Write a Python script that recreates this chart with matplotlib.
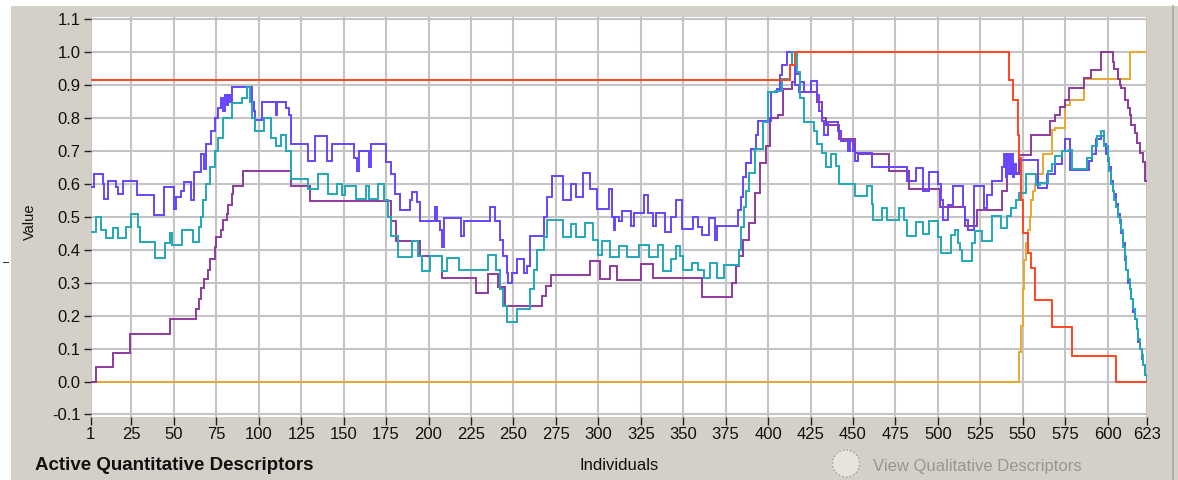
import numpy as np
import matplotlib
matplotlib.use("Agg")
import matplotlib.pyplot as plt
from matplotlib.patches import Rectangle, Ellipse
from matplotlib.lines import Line2D

plt.rcParams['font.family'] = ['Liberation Sans', 'DejaVu Sans']
plt.rcParams['axes.unicode_minus'] = False

# ---------------- data (step breakpoints: individual index -> value) ----------------
red_x = [1, 413, 416, 542, 544, 547, 548, 549, 550, 553, 555, 557, 567, 579, 605, 623]
red_v = [0.917, 0.96, 1.0, 0.915, 0.855, 0.75, 0.68, 0.55, 0.45, 0.39, 0.345, 0.248, 0.167, 0.079, 0.0, 0.0]

orange_x = [1, 548, 549, 550, 551, 552, 553, 554, 555, 556, 557, 559, 562, 567, 569, 575, 578, 586, 613, 623]
orange_v = [0.0, 0.09, 0.17, 0.28, 0.37, 0.42, 0.46, 0.50, 0.55, 0.58, 0.60, 0.63, 0.69, 0.765, 0.77, 0.84, 0.855, 0.92, 1.0, 1.0]

purple_x = [1, 4, 14, 24, 48, 63, 65, 66, 68, 70, 71, 74, 75, 78, 79, 81, 82, 84, 85, 91,
            119, 130, 178, 181, 195, 208, 228, 235, 241, 245, 267, 269, 272, 295, 301, 307,
            311, 325, 332, 361, 379, 381, 383, 385, 389, 392, 395, 399, 401, 406, 409, 414,
            416, 419, 429, 432, 434, 442, 451, 454, 471, 483, 501, 516, 523, 538, 541, 548,
            555, 566, 569, 572, 575, 577, 586, 590, 596, 603, 604, 606, 607, 608, 610, 612,
            613, 614, 616, 617, 619, 621, 622, 623]
purple_v = [0.0, 0.045, 0.088, 0.144, 0.189, 0.22, 0.25, 0.285, 0.31, 0.34, 0.372, 0.41, 0.439,
            0.46, 0.49, 0.51, 0.537, 0.57, 0.595, 0.638, 0.595, 0.548, 0.489, 0.428, 0.382,
            0.313, 0.268, 0.326, 0.286, 0.23, 0.26, 0.29, 0.324, 0.367, 0.311, 0.35, 0.309,
            0.357, 0.313, 0.257, 0.30, 0.35, 0.38, 0.43, 0.482, 0.574, 0.665, 0.714, 0.80,
            0.81, 0.888, 0.91, 0.934, 0.88, 0.85, 0.80, 0.779, 0.736, 0.695, 0.692, 0.64,
            0.584, 0.531, 0.472, 0.521, 0.578, 0.633, 0.689, 0.75, 0.79, 0.81, 0.835, 0.856,
            0.891, 0.921, 0.947, 1.0, 0.97, 0.95, 0.92, 0.90, 0.89, 0.856, 0.83, 0.81, 0.78,
            0.755, 0.725, 0.694, 0.668, 0.608, 0.608]

blue_x = [1, 3, 8, 9, 11, 16, 17, 20, 28, 38, 44, 50, 51, 54, 56, 60, 62, 66, 68, 69, 72, 74,
          76, 78, 79, 80, 81, 82, 83, 84, 96, 97, 98, 102, 110, 111, 116, 118, 119, 129, 133,
          140, 143, 156, 158, 159, 165, 166, 175, 178, 180, 183, 189, 190, 193, 195, 204, 205,
          207, 208, 209, 219, 221, 236, 239, 242, 244, 246, 247, 249, 252, 256, 258, 260, 268,
          270, 273, 279, 284, 287, 291, 295, 299, 306, 308, 309, 310, 312, 314, 319, 321, 327,
          329, 332, 334, 339, 343, 346, 349, 356, 359, 361, 365, 369, 370, 382, 384, 385, 387,
          390, 393, 394, 402, 405, 407, 408, 411, 414, 416, 418, 419, 421, 425, 429, 430, 432,
          433, 435, 441, 443, 447, 448, 450, 451, 453, 461, 482, 487, 491, 495, 500, 502, 503,
          506, 509, 515, 516, 518, 521, 527, 529, 532, 538, 539, 540, 541, 542, 543, 544, 545,
          546, 549, 559, 564, 569, 573, 575, 578, 589, 591, 593, 596, 598, 599, 600, 601, 602,
          603, 604, 605, 606, 607, 608, 609, 610, 611, 612, 613, 614, 615, 616, 617, 618, 619,
          620, 621, 622, 623]
blue_v = [0.59, 0.63, 0.60, 0.555, 0.61, 0.59, 0.57, 0.61, 0.565, 0.505, 0.59, 0.525, 0.56,
          0.58, 0.605, 0.55, 0.635, 0.69, 0.645, 0.72, 0.76, 0.80, 0.83, 0.86, 0.82, 0.87, 0.84,
          0.87, 0.85, 0.895, 0.85, 0.82, 0.795, 0.85, 0.81, 0.85, 0.83, 0.81, 0.72, 0.67, 0.745,
          0.67, 0.72, 0.68, 0.64, 0.70, 0.65, 0.72, 0.668, 0.63, 0.57, 0.522, 0.55, 0.575, 0.545,
          0.489, 0.53, 0.489, 0.46, 0.41, 0.497, 0.443, 0.489, 0.53, 0.489, 0.43, 0.38, 0.33,
          0.30, 0.33, 0.372, 0.33, 0.35, 0.443, 0.50, 0.56, 0.625, 0.55, 0.60, 0.56, 0.633, 0.585,
          0.524, 0.585, 0.50, 0.46, 0.50, 0.489, 0.517, 0.473, 0.512, 0.565, 0.512, 0.473, 0.512,
          0.453, 0.50, 0.55, 0.462, 0.50, 0.47, 0.444, 0.496, 0.43, 0.472, 0.52, 0.56, 0.62,
          0.665, 0.705, 0.75, 0.792, 0.878, 0.888, 0.93, 0.96, 1.0, 0.96, 0.90, 0.88, 0.91, 0.88,
          0.914, 0.87, 0.82, 0.79, 0.75, 0.787, 0.76, 0.73, 0.70, 0.73, 0.70, 0.67, 0.693, 0.65,
          0.609, 0.647, 0.579, 0.637, 0.60, 0.55, 0.49, 0.535, 0.594, 0.53, 0.49, 0.46, 0.593,
          0.527, 0.567, 0.608, 0.65, 0.69, 0.62, 0.69, 0.63, 0.69, 0.62, 0.66, 0.63, 0.674,
          0.589, 0.63, 0.66, 0.70, 0.735, 0.643, 0.67, 0.69, 0.735, 0.745, 0.72, 0.69, 0.67,
          0.65, 0.61, 0.58, 0.57, 0.54, 0.51, 0.49, 0.45, 0.42, 0.37, 0.34, 0.30, 0.28, 0.25,
          0.21, 0.19, 0.16, 0.12, 0.10, 0.07, 0.05, 0.02, 0.0]

teal_x = [1, 4, 7, 10, 14, 17, 22, 25, 29, 30, 39, 45, 48, 49, 55, 61, 65, 66, 67, 69, 71, 74,
          76, 79, 84, 90, 93, 95, 96, 98, 103, 107, 110, 113, 116, 119, 129, 135, 141, 146, 149,
          151, 157, 163, 165, 170, 174, 176, 178, 182, 190, 194, 196, 201, 208, 211, 218, 235,
          240, 242, 244, 246, 252, 260, 262, 264, 268, 270, 279, 284, 287, 292, 297, 300, 302,
          307, 312, 317, 324, 330, 335, 338, 343, 346, 348, 350, 355, 359, 362, 366, 370, 374,
          383, 384, 386, 387, 389, 392, 397, 400, 404, 408, 413, 414, 417, 419, 421, 427, 429,
          432, 434, 437, 440, 442, 451, 458, 461, 462, 467, 470, 477, 480, 482, 487, 491, 495,
          500, 502, 508, 510, 512, 513, 514, 520, 522, 526, 532, 537, 541, 543, 546, 548, 552,
          558, 560, 565, 567, 569, 573, 577, 579, 588, 591, 594, 596, 598, 600, 601, 602, 603,
          604, 605, 606, 607, 608, 609, 610, 611, 612, 613, 614, 615, 616, 617, 618, 619, 620,
          621, 622, 623]
teal_v = [0.455, 0.50, 0.46, 0.435, 0.465, 0.435, 0.47, 0.51, 0.47, 0.425, 0.375, 0.42, 0.45,
          0.415, 0.46, 0.425, 0.47, 0.50, 0.55, 0.60, 0.65, 0.70, 0.74, 0.80, 0.845, 0.86, 0.895,
          0.85, 0.80, 0.76, 0.80, 0.74, 0.715, 0.75, 0.70, 0.615, 0.585, 0.63, 0.57, 0.60, 0.565,
          0.595, 0.555, 0.595, 0.555, 0.60, 0.55, 0.50, 0.443, 0.377, 0.426, 0.38, 0.337, 0.382,
          0.337, 0.375, 0.339, 0.384, 0.34, 0.28, 0.23, 0.182, 0.22, 0.28, 0.34, 0.40, 0.44,
          0.49, 0.438, 0.478, 0.438, 0.48, 0.43, 0.384, 0.428, 0.377, 0.413, 0.377, 0.415, 0.377,
          0.415, 0.335, 0.372, 0.413, 0.38, 0.34, 0.36, 0.34, 0.315, 0.36, 0.315, 0.355, 0.40,
          0.47, 0.53, 0.58, 0.634, 0.705, 0.787, 0.878, 0.883, 0.92, 0.96, 1.0, 0.94, 0.86,
          0.789, 0.76, 0.72, 0.695, 0.652, 0.69, 0.655, 0.599, 0.563, 0.594, 0.54, 0.492, 0.528,
          0.492, 0.528, 0.49, 0.442, 0.484, 0.447, 0.487, 0.44, 0.391, 0.446, 0.46, 0.42, 0.40,
          0.365, 0.42, 0.456, 0.426, 0.502, 0.466, 0.502, 0.527, 0.55, 0.573, 0.63, 0.598, 0.603,
          0.638, 0.66, 0.684, 0.699, 0.704, 0.644, 0.68, 0.714, 0.745, 0.76, 0.714, 0.68, 0.64,
          0.60, 0.58, 0.55, 0.53, 0.50, 0.48, 0.46, 0.41, 0.38, 0.34, 0.31, 0.28, 0.25, 0.22,
          0.19, 0.16, 0.13, 0.10, 0.08, 0.05, 0.02, 0.0]

x_ticks = [1, 25, 50, 75, 100, 125, 150, 175, 200, 225, 250, 275, 300, 325, 350, 375, 400,
           425, 450, 475, 500, 525, 550, 575, 600, 623]
y_ticks = [-0.1, 0.0, 0.1, 0.2, 0.3, 0.4, 0.5, 0.6, 0.7, 0.8, 0.9, 1.0, 1.1]

colors = {
    'orange': '#e8a830',
    'red': '#ff4422',
    'purple': '#8e3a9e',
    'blue': '#6644ff',
    'teal': '#22a8b8',
}

W, H = 1178, 480
fig = plt.figure(figsize=(W / 100, H / 100), dpi=100)
fig.patch.set_facecolor('white')

# window background
fig.add_artist(Rectangle((11 / W, 0), (W - 11) / W, (H - 6) / H, transform=fig.transFigure,
                         facecolor='#d4d0c8', edgecolor='none', zorder=-10))
fig.add_artist(Line2D([1172.5 / W, 1172.5 / W], [0, (H - 6) / H], transform=fig.transFigure,
                      color='#a8a59e', lw=1.2))
fig.add_artist(Line2D([3 / W, 8 / W], [1 - 262 / H, 1 - 262 / H], transform=fig.transFigure,
                      color='#404040', lw=0.8))

left, right, top, bottom = 90.7, 1146.7, 17.3, 416.7
ax = fig.add_axes([left / W, (H - bottom) / H, (right - left) / W, (bottom - top) / H])
ax.set_facecolor('white')

def plot_steps(xs, vs, color, z):
    ax.plot(xs, vs, drawstyle='steps-post', color=color, lw=1.4, zorder=z, solid_joinstyle='miter')

plot_steps(orange_x, orange_v, colors['orange'], 3)
plot_steps(purple_x, purple_v, colors['purple'], 4)
plot_steps(blue_x, blue_v, colors['blue'], 5)
plot_steps(teal_x, teal_v, colors['teal'], 6)
plot_steps(red_x, red_v, colors['red'], 7)

ax.set_xlim(1, 623)
ax.set_ylim(-0.1067, 1.106)
ax.set_xticks(x_ticks)
ax.set_xticklabels([str(t) for t in x_ticks])
ax.set_yticks(y_ticks)
ax.set_yticklabels(['%.1f' % t for t in y_ticks])
ax.grid(True, color='#c4c4c4', lw=1.5, zorder=0)
ax.set_axisbelow(True)
for s in ax.spines.values():
    s.set_visible(False)
ax.tick_params(axis='both', direction='out', color='#202020', width=1.0,
               labelsize=12, labelcolor='#101010')
ax.tick_params(axis='y', length=5, pad=2.5)
ax.tick_params(axis='x', length=6, pad=1.5)

fig.text(30 / W, 1 - 222 / H, 'Value', rotation=90, ha='center', va='center',
         fontsize=10.5, color='#101010')
fig.text(619 / W, 1 - 465 / H, 'Individuals', ha='center', va='center',
         fontsize=12, color='#101010')
fig.text(35 / W, 1 - 466 / H, 'Active Quantitative Descriptors', ha='left', va='center',
         fontsize=13.5, fontweight='bold', color='#101010')

fig.add_artist(Ellipse((846 / W, 1 - 463.5 / H), 27 / W, 27 / H, transform=fig.transFigure,
                       facecolor='#e6e4de', edgecolor='#a09c94', lw=1.0, linestyle=':'))
fig.text(873 / W, 1 - 466.5 / H, 'View Qualitative Descriptors', ha='left', va='center',
         fontsize=12, color='#9a968e')

fig.savefig('out.png', dpi=100, facecolor=fig.get_facecolor())
